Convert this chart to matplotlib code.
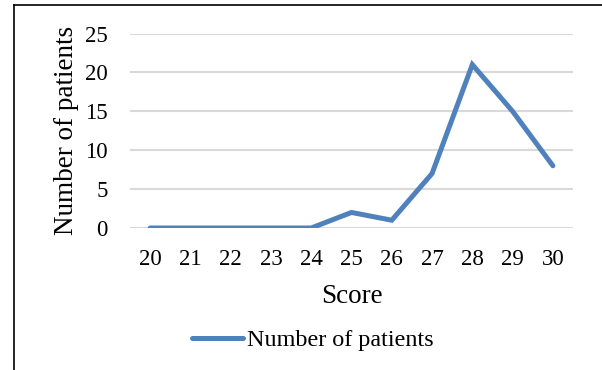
import matplotlib
matplotlib.use('Agg')
import matplotlib.pyplot as plt
from matplotlib.lines import Line2D

scores = ['20', '21', '22', '23', '24', '25', '26', '27', '28', '29', '30']
patients = [0, 0, 0, 0, 0, 2, 1, 7, 21, 15, 8]
y_ticks = [0, 5, 10, 15, 20, 25]

plt.rcParams['font.family'] = ['Liberation Serif', 'DejaVu Serif']

fig = plt.figure(figsize=(6.02, 3.70), dpi=100)
ax = fig.add_axes([130 / 602, 1 - 228 / 370, 443 / 602, 194.5 / 370])

x = list(range(len(scores)))
ax.plot(x, patients, color='#4F81BD', linewidth=3.6, solid_capstyle='round',
        solid_joinstyle='miter', label='Number of patients', zorder=3)

ax.set_xlim(-0.5, len(scores) - 0.5)
ax.set_ylim(0, 25)
ax.set_xticks(x)
ax.set_xticklabels(scores)
ax.set_yticks(y_ticks)

ax.grid(axis='y', color='#D9D9D9', linewidth=1.5)
ax.set_axisbelow(True)
for s in ax.spines.values():
    s.set_visible(False)
ax.tick_params(length=0, labelsize=16.5, colors='black')
ax.tick_params(axis='y', pad=16)
ax.tick_params(axis='x', pad=15)

ax.set_xlabel('Score', fontsize=19.5, labelpad=10)
ax.set_ylabel('Number of patients', fontsize=19.5, labelpad=4)

ax.legend(loc='center', bbox_to_anchor=(313 / 602, 1 - 340 / 370),
          bbox_transform=fig.transFigure, frameon=False, fontsize=17.4,
          handlelength=2.1, handletextpad=0.2)

# frame edges around the chart area
fig.add_artist(Line2D([14 / 602, 14 / 602], [0, 1 - 5 / 370], color='black', linewidth=1.2))
fig.add_artist(Line2D([14 / 602, 1], [1 - 5 / 370, 1 - 5 / 370], color='black', linewidth=1.2))

fig.savefig('out.png', dpi=100)
